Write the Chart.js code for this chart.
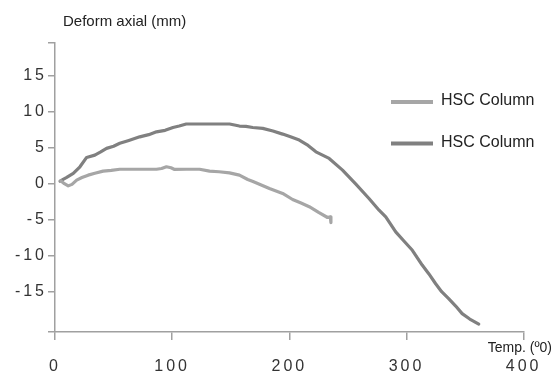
<!DOCTYPE html>
<html>
<head>
<meta charset="utf-8">
<script src="https://cdn.jsdelivr.net/npm/chart.js@4"></script>
<style>
html,body{margin:0;padding:0;background:#fff;}
#wrap{width:554px;height:374px;position:relative;}
</style>
</head>
<body>
<div id="wrap"><canvas id="c"></canvas></div>
<script>
// ---- data ----
const seriesNames = ['HSC Column', 'HSC Column'];
const yTitle = 'Deform axial (mm)';
const xTitle = 'Temp. (º0)';
const xTicks = [0, 100, 200, 300, 400];
const yTicks = [-15, -10, -5, 0, 5, 10, 15];

const tempA = [4.9, 8, 11.3, 14.5, 18.5, 23, 28.3, 34, 41.1, 48, 55.3, 65, 75, 86.6, 91, 95.1, 99, 102.1, 112, 123.4, 131.9, 140, 148.9, 157.4, 164.5, 169, 174.5, 183, 194.3, 202.8, 210, 217, 225, 232.6, 235, 235.5];
const deformA = [0.39, 0.0, -0.31, -0.1, 0.49, 0.85, 1.18, 1.45, 1.74, 1.85, 2.0, 2.0, 2.0, 2.0, 2.1, 2.34, 2.2, 1.97, 2.0, 2.0, 1.74, 1.65, 1.5, 1.18, 0.58, 0.3, -0.07, -0.67, -1.36, -2.2, -2.7, -3.2, -4.0, -4.7, -4.6, -5.4];

const tempB = [4.3, 10, 15.6, 21.3, 27, 34, 39, 44, 50, 55.3, 63, 72.3, 80, 86.6, 94, 100.7, 106, 112, 130, 149, 157.4, 163, 168.8, 177.3, 186, 194.3, 201, 208.5, 216, 222.7, 234, 245.4, 256.8, 268, 276.6, 282.3, 290.8, 298, 305, 313.4, 319, 324.9, 330, 336.2, 342, 347.5, 354, 361.7];
const deformB = [0.35, 0.86, 1.42, 2.34, 3.64, 3.96, 4.4, 4.9, 5.2, 5.6, 6.0, 6.5, 6.8, 7.2, 7.4, 7.8, 8.0, 8.28, 8.28, 8.28, 8.0, 7.95, 7.8, 7.68, 7.3, 6.88, 6.5, 6.05, 5.3, 4.42, 3.5, 1.88, -0.07, -2.06, -3.69, -4.62, -6.7, -8.0, -9.25, -11.3, -12.5, -13.9, -15.0, -16.0, -17.0, -18.05, -18.8, -19.5];

const colors = ['#a6a6a6', '#808080'];
const Y_MIN = -20.6, Y_MAX = 19.6;

const toPts = (xs, ys) => xs.map((x, i) => ({x: x, y: ys[i]}));

const spacingPlugin = {
  id: 'spacing',
  beforeDraw(chart) { chart.ctx.letterSpacing = '3px'; },
  beforeDatasetsDraw(chart) { chart.ctx.letterSpacing = '0px'; }
};

const decoPlugin = {
  id: 'deco',
  afterDraw(chart) {
    const ctx = chart.ctx;
    ctx.save();
    ctx.letterSpacing = '0px';
    ctx.fillStyle = '#222';
    ctx.textBaseline = 'alphabetic';
    ctx.font = '15px "Liberation Sans", Arial, sans-serif';
    ctx.textAlign = 'left';
    ctx.fillText(yTitle, 63, 26);
    ctx.font = '14px "Liberation Sans", Arial, sans-serif';
    ctx.textAlign = 'right';
    ctx.fillText(xTitle, 552, 352);
    // legend
    const rows = [{ly: 102, ty: 105}, {ly: 143.5, ty: 146.5}];
    chart.data.datasets.forEach((ds, i) => {
      ctx.strokeStyle = ds.borderColor;
      ctx.lineWidth = 4;
      ctx.beginPath();
      ctx.moveTo(391, rows[i].ly);
      ctx.lineTo(433, rows[i].ly);
      ctx.stroke();
      ctx.font = '16px "Liberation Sans", Arial, sans-serif';
      ctx.textAlign = 'left';
      ctx.fillStyle = '#222';
      ctx.fillText(ds.label, 441, rows[i].ty);
    });
    ctx.restore();
  }
};

new Chart(document.getElementById('c'), {
  type: 'line',
  data: {
    datasets: [
      {label: seriesNames[0], data: toPts(tempA, deformA), borderColor: colors[0], backgroundColor: colors[0]},
      {label: seriesNames[1], data: toPts(tempB, deformB), borderColor: colors[1], backgroundColor: colors[1]}
    ]
  },
  options: {
    responsive: true,
    maintainAspectRatio: false,
    animation: false,
    devicePixelRatio: 1,
    layout: {padding: {top: 42.5, right: 29, left: 0, bottom: 0}},
    elements: {
      point: {radius: 0, hoverRadius: 0},
      line: {borderWidth: 3.2, tension: 0, borderJoinStyle: 'round', borderCapStyle: 'round', fill: false}
    },
    plugins: {legend: {display: false}, tooltip: {enabled: false}},
    scales: {
      x: {
        type: 'linear',
        min: 0, max: 400,
        afterBuildTicks(scale) { scale.ticks = xTicks.map(v => ({value: v})); },
        afterFit(scale) { scale.height = 42; },
        grid: {drawOnChartArea: false, drawTicks: true, tickLength: 8, color: '#a0a0a0', lineWidth: 1.5},
        border: {color: '#a0a0a0', width: 1.5},
        ticks: {
          color: '#333',
          padding: 17,
          maxRotation: 0,
          autoSkip: false,
          font: {family: '"Liberation Sans", Arial, sans-serif', size: 16},
          callback: v => String(v)
        }
      },
      y: {
        type: 'linear',
        min: Y_MIN, max: Y_MAX,
        afterBuildTicks(scale) {
          scale.ticks = [Y_MIN].concat(yTicks, [Y_MAX]).map(v => ({value: v}));
        },
        afterFit(scale) { scale.width = 55; },
        grid: {drawOnChartArea: false, drawTicks: true, tickLength: 7, color: '#a0a0a0', lineWidth: 1.5},
        border: {color: '#a0a0a0', width: 1.5},
        ticks: {
          color: '#333',
          padding: 1,
          autoSkip: false,
          font: {family: '"Liberation Sans", Arial, sans-serif', size: 16},
          callback: v => (yTicks.indexOf(v) >= 0 ? String(v) : '')
        }
      }
    }
  },
  plugins: [spacingPlugin, decoPlugin]
});
</script>
</body>
</html>
